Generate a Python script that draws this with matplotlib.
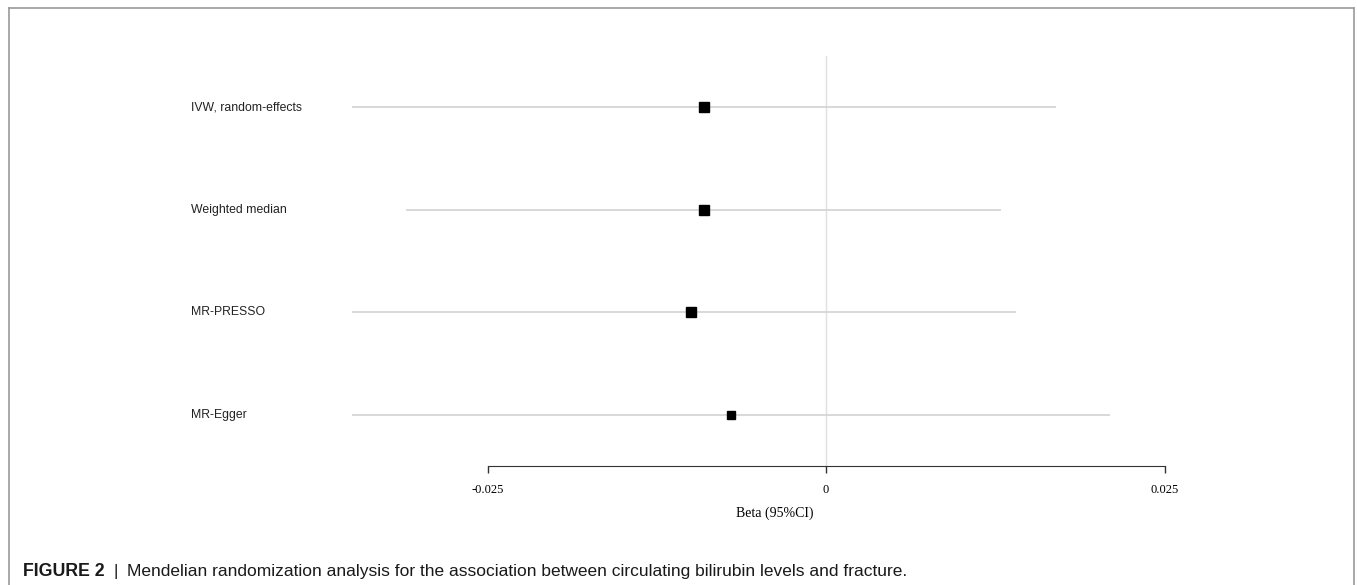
import matplotlib
matplotlib.use("Agg")
import matplotlib.pyplot as plt
from matplotlib.lines import Line2D
import matplotlib.transforms as mtransforms

# Data
methods = ["IVW, random-effects", "Weighted median", "MR-PRESSO", "MR-Egger"]
beta = [-0.0090, -0.0090, -0.0100, -0.0070]
ci_low = [-0.0350, -0.0310, -0.0350, -0.0350]
ci_high = [0.0170, 0.0129, 0.0140, 0.0210]
ticks = [-0.025, 0, 0.025]
tick_labels = ["-0.025", "0", "0.025"]

W, H = 1357, 585
fig = plt.figure(figsize=(W / 100, H / 100), dpi=100)

# axes placed in pixel terms: 0 at x=826, 0.025 per 338.5 px
ppu = 338.5 / 0.025
x0, x1 = -0.040, 0.030
left_px = 826 + x0 * ppu
right_px = 826 + x1 * ppu
top_px, bot_px = 56, 466
ax = fig.add_axes([left_px / W, (H - bot_px) / H,
                   (right_px - left_px) / W, (bot_px - top_px) / H])
ax.set_xlim(x0, x1)
ax.set_ylim(0.5, len(methods) + 0.5)

ax.axvline(0, color="#e0e0e0", lw=1, zorder=1)

ys = list(range(len(methods), 0, -1))
msizes = [6.5, 7.3, 6.8, 6.3]
for y, b, lo, hi, ms in zip(ys, beta, ci_low, ci_high, msizes):
    ax.plot([lo, hi], [y, y], color="#d6d6d6", lw=1.3, zorder=2,
            solid_capstyle="butt")
    ax.plot(b, y, marker="s", color="black", ms=ms, zorder=3, lw=0)

# row labels at fixed figure x
trans = mtransforms.blended_transform_factory(fig.transFigure, ax.transData)
for y, m in zip(ys, methods):
    ax.text(191 / W, y, m, transform=trans, ha="left", va="center",
            fontsize=8.8, family="Liberation Sans", color="#222222")

for s in ["top", "right", "left"]:
    ax.spines[s].set_visible(False)
ax.spines["bottom"].set_bounds(-0.025, 0.025)
ax.spines["bottom"].set_color("#333333")
ax.set_yticks([])
ax.set_xticks(ticks)
ax.set_xticklabels(tick_labels, family="Liberation Serif", fontsize=9)
ax.tick_params(axis="x", length=5, width=1, color="#333333", pad=8)
ax.set_xlabel("Beta (95%CI)", family="Liberation Serif", fontsize=10)
ax.xaxis.set_label_coords((775 - left_px) / (right_px - left_px),
                          -(513 - bot_px) / (bot_px - top_px))
ax.xaxis.label.set_va("center")

# outer frame (open at the bottom)
fr = dict(color="#9a9a9a", lw=1.2, transform=fig.transFigure)
fig.add_artist(Line2D([9 / W, 9 / W], [0, 1 - 8 / H], **fr))
fig.add_artist(Line2D([1354 / W, 1354 / W], [0, 1 - 8 / H], **fr))
fig.add_artist(Line2D([9 / W, 1354 / W], [1 - 8 / H, 1 - 8 / H], **fr))

# caption
cap_fam = "Liberation Sans"
cy = 1 - 576 / H
t1 = fig.text(23 / W, cy, "FIGURE 2", fontsize=12.8, weight="bold",
              family=cap_fam, va="baseline", color="#1a1a1a")
fig.canvas.draw()
bb = t1.get_window_extent()
t2 = fig.text((bb.x1 + 9) / W, cy, "|", fontsize=12.5, family=cap_fam,
              va="baseline", color="#1a1a1a")
fig.canvas.draw()
bb2 = t2.get_window_extent()
fig.text((bb2.x1 + 9) / W, cy,
         "Mendelian randomization analysis for the association between "
         "circulating bilirubin levels and fracture.",
         fontsize=12.5, family=cap_fam, va="baseline", color="#1a1a1a")

fig.savefig("out.png", dpi=100)
